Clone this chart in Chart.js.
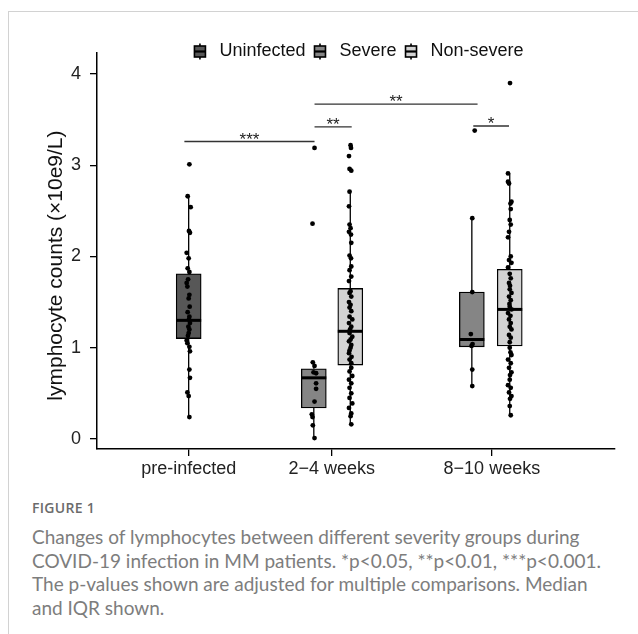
<!DOCTYPE html>
<html>
<head>
<meta charset="utf-8">
<script src="https://cdn.jsdelivr.net/npm/chart.js@4.4.1/dist/chart.umd.min.js"></script>
<style>
  html, body { margin: 0; padding: 0; background: #fff; }
  body { width: 638px; height: 634px; position: relative; overflow: hidden; }
  #frame { position: absolute; left: 8px; top: 11px; width: 700px; height: 700px;
           border-left: 1px solid #d2d2d2; border-top: 1px solid #d2d2d2; }
  #wrap { position: absolute; left: 0; top: 0; width: 638px; height: 490px; }
  #figlabel { position: absolute; left: 32px; top: 498px; font: 600 14px 'Open Sans', sans-serif;
              color: #6b6b6b; letter-spacing: 0.3px; }
  #caption { position: absolute; left: 32px; top: 525px; font: 19px Lato, sans-serif;
             line-height: 23.7px; color: #7d7d7d; white-space: nowrap; }
</style>
</head>
<body>
<div id="frame"></div>
<div id="wrap"><canvas id="chart" width="638" height="490"></canvas></div>
<div id="figlabel">FIGURE 1</div>
<div id="caption">Changes of lymphocytes between different severity groups during<br>COVID-19 infection in MM patients. *p&lt;0.05, **p&lt;0.01, ***p&lt;0.001.<br>The p-values shown are adjusted for multiple comparisons. Median<br>and IQR shown.</div>
<script>
// x axis groups
const groupLabels = ['pre-infected', '2\u22124 weeks', '8\u221210 weeks'];
const groupTicks = [1, 2, 3.12];
const yTicks = [0, 1, 2, 3, 4];

// legend series
const seriesNames = ['Uninfected', 'Severe', 'Non-severe'];
const seriesColors = ['#575757', '#858585', '#d3d3d3'];

// boxes: pre Uninfected, 2-4 Severe, 2-4 Non-severe, 8-10 Severe, 8-10 Non-severe
const boxGroup = ['Uninfected', 'Severe', 'Non-severe', 'Severe', 'Non-severe'];
const boxPos = [1.0, 1.875, 2.13, 2.98, 3.245];
const boxLow = [0.24, 0.01, 0.16, 0.58, 0.26];
const boxQ1 = [1.10, 0.34, 0.81, 1.01, 1.02];
const boxMedian = [1.30, 0.67, 1.18, 1.09, 1.42];
const boxQ3 = [1.81, 0.77, 1.65, 1.61, 1.86];
const boxHigh = [2.66, 0.84, 2.71, 2.42, 2.91];

// patient values per box, with the small jitter offsets seen in the figure
const preVals = [3.01, 2.66, 2.54, 2.28, 2.26, 2.04, 1.98, 1.87, 1.83, 1.75, 1.71, 1.67, 1.58, 1.54, 1.45, 1.39,
  1.34, 1.31, 1.27, 1.23, 1.20, 1.16, 1.13, 1.08, 1.05, 1.01, 0.96, 0.76, 0.67, 0.51, 0.47, 0.24];
const preJit = [0.005, -0.007, 0.014, 0.002, 0.009, -0.014, 0, -0.007, 0.005, -0.004, -0.014, -0.009, 0.005, 0, 0.007, -0.007,
  0.005, 0.002, 0.009, -0.002, 0.005, 0, -0.005, -0.014, -0.009, 0.005, 0.009, 0.005, 0.009, -0.009, 0, 0.005];

const sevEarlyVals = [3.19, 2.36, 0.84, 0.80, 0.73, 0.72, 0.61, 0.55, 0.41, 0.27, 0.24, 0.15, 0.01];
const sevEarlyJit = [0.005, -0.009, -0.007, 0.005, -0.002, 0.016, 0.016, 0.016, 0.005, -0.014, -0.009, -0.007, 0.005];

const nonEarlyVals = [3.22, 3.19, 3.10, 2.96, 2.94, 2.71, 2.55, 2.35, 2.31, 2.27, 2.24, 2.15, 2.01, 1.98, 1.89, 1.85,
  1.78, 1.73, 1.62, 1.60, 1.56, 1.50, 1.47, 1.44, 1.40, 1.34, 1.31, 1.27, 1.23, 1.20, 1.16, 1.12, 1.09, 1.07, 1.03,
  1.00, 0.97, 0.94, 0.90, 0.87, 0.83, 0.78, 0.74, 0.69, 0.65, 0.61, 0.56, 0.50, 0.45, 0.39, 0.34, 0.28, 0.25, 0.16];
const nonEarlyJit = [0.002, 0.005, -0.009, -0.005, 0.007, -0.005, -0.009, -0.005, 0.002, -0.009, 0.005, 0.007, -0.005,
  0.005, 0.007, -0.005, 0.007, -0.009, 0.002, -0.005, 0.007, -0.009, 0.002, -0.005, 0.007, -0.005, 0.014, -0.009,
  0.007, -0.002, -0.005, 0.014, 0.002, -0.009, 0.007, 0.002, -0.005, -0.009, 0.009, -0.005, 0.007, 0.007, -0.005,
  0.014, -0.009, 0.007, -0.005, 0.007, -0.005, 0.014, -0.009, 0.007, 0.002, 0.007];

const sevLateVals = [3.38, 2.42, 1.61, 1.15, 1.04, 1.02, 0.76, 0.58];
const sevLateJit = [0.02, 0.003, 0.003, -0.007, 0.005, -0.002, 0.003, 0.003];

const nonLateVals = [3.90, 2.91, 2.82, 2.80, 2.60, 2.58, 2.52, 2.40, 2.35, 2.27, 2.21, 2.00, 1.96, 1.93, 1.88, 1.81,
  1.76, 1.71, 1.68, 1.64, 1.60, 1.56, 1.52, 1.48, 1.45, 1.42, 1.38, 1.35, 1.31, 1.27, 1.23, 1.20, 1.14, 1.11, 1.06,
  1.00, 0.95, 0.92, 0.87, 0.83, 0.78, 0.73, 0.70, 0.65, 0.59, 0.56, 0.51, 0.47, 0.44, 0.36, 0.26];
const nonLateJit = [0.002, -0.012, -0.012, -0.005, 0.012, 0.005, 0.007, 0, 0.007, -0.005, -0.012, 0.007, -0.005, 0.012,
  -0.012, 0, 0.007, -0.005, 0.002, 0, 0.012, -0.005, 0.007, -0.002, 0, 0.012, -0.012, 0.005, -0.005, 0.007, 0, 0.012,
  -0.005, 0.007, 0, 0, 0.005, 0.012, -0.012, 0.007, -0.005, 0.012, 0.002, 0, -0.012, 0.007, -0.005, 0.012, 0.002, 0, 0.007];

// significance brackets
const sigFrom = [0.97, 1.88, 1.88, 2.99];
const sigTo = [1.88, 2.14, 3.02, 3.24];
const sigY = [3.26, 3.42, 3.67, 3.43];
const sigText = ['***', '**', '**', '*'];

const FONT = "'Liberation Sans', Arial, sans-serif";
Chart.defaults.font.family = FONT;

// floating bars = the IQR boxes, one dataset per legend series
const boxDatasets = seriesNames.map((name, s) => {
  const idx = boxGroup.map((g, i) => g === name ? i : -1).filter(i => i >= 0);
  return {
    type: 'bar',
    label: name,
    legendBox: true,
    data: idx.map(i => ({x: boxPos[i], y: [boxQ1[i], boxQ3[i]]})),
    medians: idx.map(i => boxMedian[i]),
    backgroundColor: seriesColors[s],
    borderColor: '#000',
    borderWidth: 1.3,
    borderSkipped: false,
    barThickness: 25,
    grouped: false,
    order: 3
  };
});

// whiskers as broken line segments
const whiskerData = [];
boxPos.forEach((x, i) => {
  whiskerData.push({x, y: boxLow[i]}, {x, y: boxQ1[i]}, {x, y: null},
                   {x, y: boxQ3[i]}, {x, y: boxHigh[i]}, {x, y: null});
});

// jittered points
const pointGroups = [
  [boxPos[0], preVals, preJit],
  [boxPos[1], sevEarlyVals, sevEarlyJit],
  [boxPos[2], nonEarlyVals, nonEarlyJit],
  [boxPos[3], sevLateVals, sevLateJit],
  [boxPos[4], nonLateVals, nonLateJit]
];
const pointData = pointGroups.flatMap(([pos, vals, jit]) => vals.map((v, i) => ({x: pos + jit[i], y: v})));

// bracket lines
const bracketData = [];
sigY.forEach((y, i) => {
  bracketData.push({x: sigFrom[i], y}, {x: sigTo[i], y}, {x: sigFrom[i], y: null});
});

// median line across each box
const medianPlugin = {
  id: 'medians',
  afterDatasetDraw(chart, args) {
    const ds = chart.data.datasets[args.index];
    if (!ds.medians) return;
    const ctx = chart.ctx;
    ctx.save();
    ctx.strokeStyle = '#000';
    ctx.lineWidth = 3;
    args.meta.data.forEach((bar, j) => {
      const {x, width} = bar.getProps(['x', 'width'], true);
      const py = chart.scales.y.getPixelForValue(ds.medians[j]);
      ctx.beginPath();
      ctx.moveTo(x - width / 2, py);
      ctx.lineTo(x + width / 2, py);
      ctx.stroke();
    });
    ctx.restore();
  }
};

// stars above brackets
const sigPlugin = {
  id: 'sigLabels',
  afterDatasetsDraw(chart) {
    const ctx = chart.ctx;
    const {x, y} = chart.scales;
    ctx.save();
    ctx.font = '17px ' + FONT;
    ctx.fillStyle = '#222';
    ctx.textAlign = 'center';
    ctx.textBaseline = 'alphabetic';
    sigText.forEach((t, i) => {
      const px = (x.getPixelForValue(sigFrom[i]) + x.getPixelForValue(sigTo[i])) / 2;
      ctx.fillText(t, px, y.getPixelForValue(sigY[i]) + 3);
    });
    ctx.restore();
  }
};

// legend with little boxplot keys
const legendPlugin = {
  id: 'boxLegend',
  afterDraw(chart) {
    const ctx = chart.ctx;
    const items = chart.data.datasets.filter(d => d.legendBox);
    ctx.save();
    ctx.font = '18px ' + FONT;
    const glyphW = 11, textGap = 14, itemGap = 9, cy = 51.5;
    const widths = items.map(d => glyphW + textGap + ctx.measureText(d.label).width);
    const total = widths.reduce((a, b) => a + b, 0) + itemGap * (items.length - 1);
    let left = (chart.chartArea.left + chart.chartArea.right) / 2 - total / 2 + 3;
    items.forEach((d, i) => {
      const cx = left + glyphW / 2;
      ctx.strokeStyle = '#000';
      ctx.lineWidth = 1.6;
      ctx.beginPath();
      ctx.moveTo(cx, cy - 8);
      ctx.lineTo(cx, cy + 8);
      ctx.stroke();
      ctx.fillStyle = d.backgroundColor;
      ctx.fillRect(left, cy - 5.5, glyphW, 11);
      ctx.strokeRect(left, cy - 5.5, glyphW, 11);
      ctx.lineWidth = 2.2;
      ctx.beginPath();
      ctx.moveTo(left, cy);
      ctx.lineTo(left + glyphW, cy);
      ctx.stroke();
      ctx.fillStyle = '#111';
      ctx.textBaseline = 'middle';
      ctx.fillText(d.label, left + glyphW + textGap, cy);
      left += widths[i] + itemGap;
    });
    ctx.restore();
  }
};

new Chart(document.getElementById('chart'), {
  type: 'bar',
  data: {
    datasets: [
      ...boxDatasets,
      { type: 'line', label: 'whiskers', data: whiskerData, borderColor: '#000', borderWidth: 1.3,
        pointRadius: 0, spanGaps: false, order: 4 },
      { type: 'scatter', label: 'patients', data: pointData, pointRadius: 2.4, pointBorderWidth: 0,
        pointBackgroundColor: '#000', order: 0 },
      { type: 'line', label: 'brackets', data: bracketData, borderColor: '#333', borderWidth: 1.3,
        pointRadius: 0, spanGaps: false, order: 0 }
    ]
  },
  options: {
    responsive: false,
    animation: false,
    events: [],
    layout: { padding: { top: 53, right: 23, left: 0, bottom: 0 } },
    plugins: { legend: { display: false }, tooltip: { enabled: false } },
    scales: {
      x: {
        type: 'linear', min: 0.359, max: 3.981, offset: false,
        grid: { drawOnChartArea: false, drawTicks: true, tickLength: 7, color: '#000', lineWidth: 1.3, offset: false },
        border: { color: '#000', width: 1.5 },
        ticks: { font: { size: 18 }, color: '#222', padding: 2, autoSkip: false, maxRotation: 0,
                 callback: (v, i) => groupLabels[i] },
        afterBuildTicks: s => { s.ticks = groupTicks.map(v => ({value: v})); },
        afterFit: s => { s.height = 41; }
      },
      y: {
        min: -0.11, max: 4.23,
        grid: { drawOnChartArea: false, drawTicks: true, tickLength: 7, color: '#000', lineWidth: 1.3 },
        border: { color: '#000', width: 1.5 },
        ticks: { font: { size: 18 }, color: '#222', padding: 9, callback: v => v },
        afterBuildTicks: s => { s.ticks = yTicks.map(v => ({value: v})); },
        afterFit: s => { s.width = 97; },
        // trailing no-break spaces nudge the centred title down the axis, as in the figure
        title: { display: true, text: 'lymphocyte counts (\u00d710e9/L)\u00a0\u00a0\u00a0\u00a0\u00a0',
                 font: { size: 21 }, color: '#111', padding: { top: 44, bottom: 0 } }
      }
    }
  },
  plugins: [medianPlugin, sigPlugin, legendPlugin]
});
</script>
</body>
</html>
